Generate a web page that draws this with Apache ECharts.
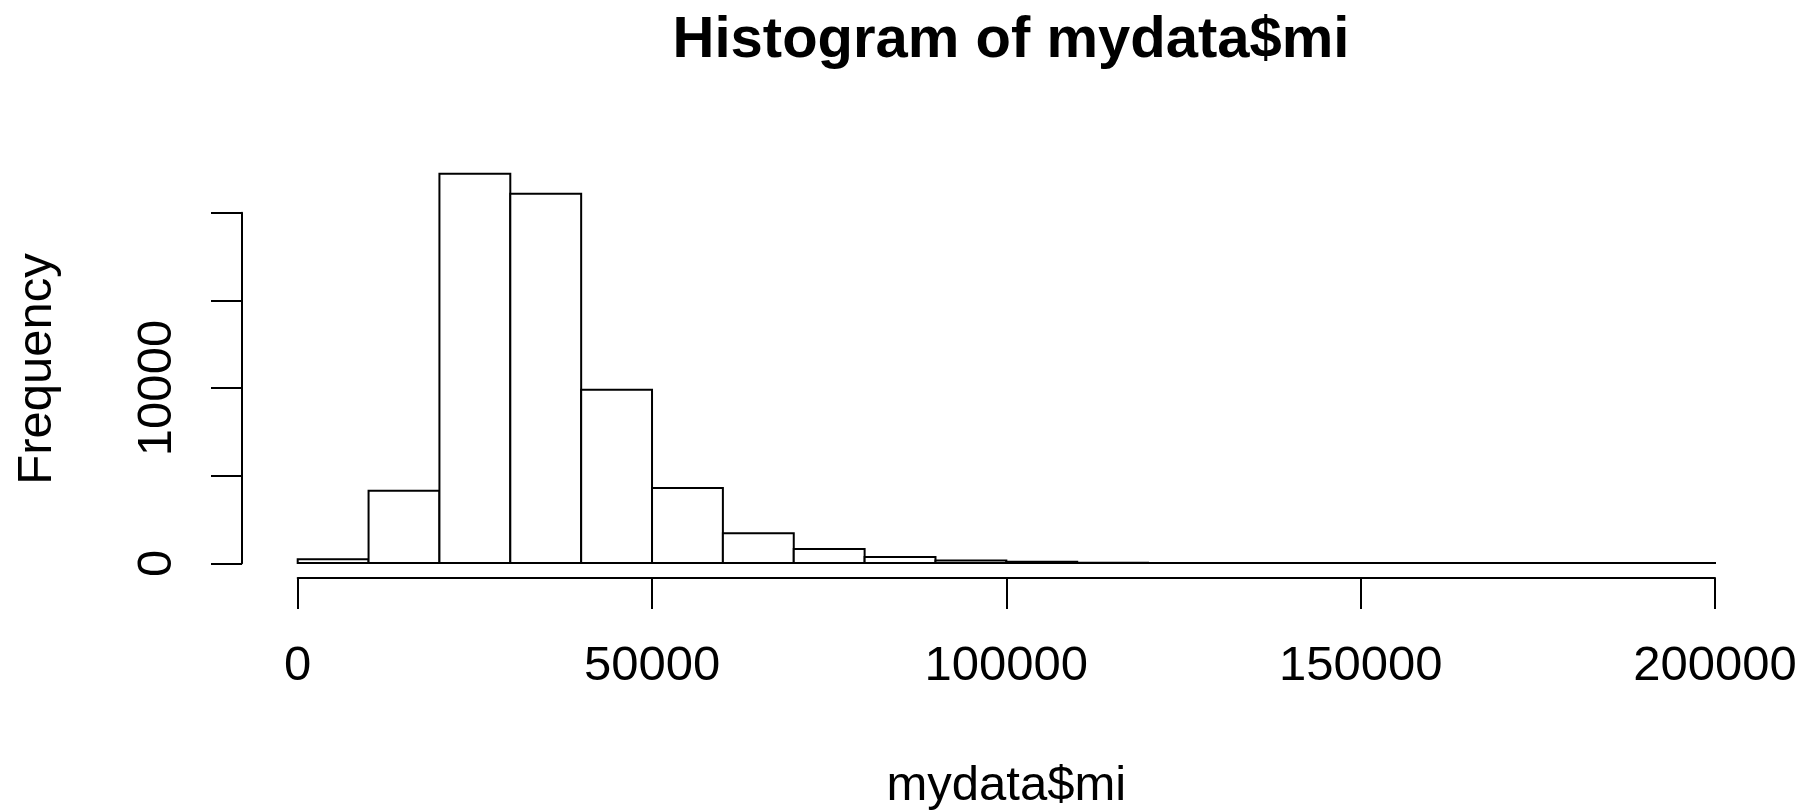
<!DOCTYPE html>
<html>
<head>
    <meta charset="utf-8">
    <title>Histogram of mydata$mi</title>
    <script src="https://cdn.jsdelivr.net/npm/echarts@6/dist/echarts.min.js"></script>
    <style>
        html, body { margin: 0; padding: 0; background: #fff; }
        #chart { width: 1808px; height: 812px; }
    </style>
</head>
<body>
<div id="chart"></div>

<script>
    // histogram bins (10000 wide) and counts
    var binStart = [0, 10000, 20000, 30000, 40000, 50000, 60000, 70000, 80000, 90000,
        100000, 110000, 120000, 130000, 140000, 150000, 160000, 170000, 180000, 190000];
    var binEnd = [10000, 20000, 30000, 40000, 50000, 60000, 70000, 80000, 90000, 100000,
        110000, 120000, 130000, 140000, 150000, 160000, 170000, 180000, 190000, 200000];
    var counts = [220, 4125, 22210, 21070, 9890, 4280, 1710, 800, 350, 150,
        80, 25, 12, 6, 4, 2, 1, 1, 1, 1];

    // axis ticks, R only prints some of the y labels
    var xTicks = [0, 50000, 100000, 150000, 200000];
    var xTickLabels = ['0', '50000', '100000', '150000', '200000'];
    var yTicks = [0, 5000, 10000, 15000, 20000];
    var yTickLabels = ['0', '', '10000', '', ''];

    var font = '"Liberation Sans", Arial, Helvetica, sans-serif';
    var lw = 2;

    var data = [];
    for (var i = 0; i < counts.length; i++) {
        data.push([binStart[i], binEnd[i], counts[i]]);
    }

    function tickLabel(ticks, labels) {
        return function (v) {
            var k = ticks.indexOf(v);
            return k < 0 ? '' : labels[k];
        };
    }

    function renderBin(params, api) {
        var p0 = api.coord([api.value(0), api.value(2)]);
        var p1 = api.coord([api.value(1), 0]);
        return {
            type: 'rect',
            shape: { x: p0[0], y: p0[1], width: p1[0] - p0[0], height: p1[1] - p0[1] },
            style: { fill: '#fff', stroke: '#000', lineWidth: lw }
        };
    }

    var myChart = echarts.init(document.getElementById('chart'));
    var option = {
        backgroundColor: '#fff',
        animation: false,
        title: {
            text: 'Histogram of mydata$mi',
            left: 1006,
            textAlign: 'center',
            top: 7,
            textStyle: { fontFamily: font, fontSize: 58, fontWeight: 'bold', color: '#000' }
        },
        grid: [
            // plot region (x from 0 to 200000)
            { left: 297.7, right: 93, top: 160, bottom: 234, outerBoundsMode: 'none' },
            // y axis only spans the tick range
            { left: 242, width: 10, top: 212.7, height: 350.6, outerBoundsMode: 'none' }
        ],
        xAxis: [
            {
                type: 'value', gridIndex: 0,
                min: xTicks[0], max: xTicks[xTicks.length - 1], interval: 50000,
                name: 'mydata$mi', nameLocation: 'middle', nameGap: 184,
                nameTextStyle: { fontFamily: font, fontSize: 49, color: '#000' },
                axisLine: { show: true, onZero: false, lineStyle: { color: '#000', width: lw } },
                axisTick: { show: true, length: 31, lineStyle: { color: '#000', width: lw } },
                axisLabel: {
                    fontFamily: font, fontSize: 49, color: '#000', margin: 64,
                    formatter: tickLabel(xTicks, xTickLabels)
                },
                splitLine: { show: false }
            },
            { type: 'value', gridIndex: 1, show: false, min: 0, max: 1 }
        ],
        yAxis: [
            {
                type: 'value', gridIndex: 0, min: -850, max: 23000,
                name: 'Frequency', nameLocation: 'middle', nameGap: 236, nameRotate: 90,
                nameTextStyle: { fontFamily: font, fontSize: 49, color: '#000' },
                axisLine: { show: false }, axisTick: { show: false },
                axisLabel: { show: false }, splitLine: { show: false }
            },
            {
                type: 'value', gridIndex: 1,
                min: yTicks[0], max: yTicks[yTicks.length - 1], interval: 5000,
                axisLine: { show: true, lineStyle: { color: '#000', width: lw } },
                axisTick: { show: true, length: 31, lineStyle: { color: '#000', width: lw } },
                axisLabel: {
                    fontFamily: font, fontSize: 49, color: '#000', rotate: 90, margin: 60,
                    formatter: tickLabel(yTicks, yTickLabels)
                },
                splitLine: { show: false }
            }
        ],
        series: [{
            type: 'custom',
            xAxisIndex: 0,
            yAxisIndex: 0,
            renderItem: renderBin,
            encode: { x: [0, 1], y: 2 },
            data: data
        }]
    };
    myChart.setOption(option);
</script>
</body>
</html>
